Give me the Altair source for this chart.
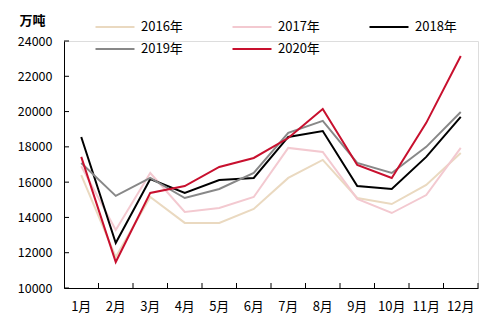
import altair as alt
import pandas as pd

months = ["1月", "2月", "3月", "4月", "5月", "6月", "7月", "8月", "9月", "10月", "11月", "12月"]
years = ["2016年", "2017年", "2018年", "2019年", "2020年"]
v2016 = [16400, 11760, 15160, 13690, 13690, 14480, 16240, 17260, 15100, 14760, 15840, 17650]
v2017 = [16900, 13290, 16520, 14310, 14540, 15160, 17940, 17710, 15050, 14250, 15270, 17940]
v2018 = [18560, 12550, 16180, 15390, 16120, 16240, 18560, 18900, 15780, 15610, 17430, 19700]
v2019 = [17090, 15220, 16240, 15100, 15610, 16520, 18790, 19470, 17090, 16520, 18000, 19980]
v2020 = [17430, 11470, 15390, 15780, 16860, 17370, 18500, 20150, 16970, 16240, 19360, 23150]
colors = ["#EAD9C0", "#F3C9D0", "#000000", "#888888", "#C8102E"]
y_ticks = [10000, 12000, 14000, 16000, 18000, 20000, 22000, 24000]

series = [v2016, v2017, v2018, v2019, v2020]
rows = []
for k, (yr, vals) in enumerate(zip(years, series)):
    for m, v in zip(months, vals):
        rows.append({"month": m, "year": yr, "value": v, "order": k})
df = pd.DataFrame(rows)

W, H = 414, 247
FONT = "Noto Sans CJK SC"

xscale = alt.Scale(domain=months, paddingInner=0, paddingOuter=0)
yscale = alt.Scale(domain=[10000, 24000], nice=False, zero=False)

x_axis = alt.Axis(title=None, labelAngle=0, ticks=False, domainColor="#000000",
                  labelFont=FONT, labelFontSize=13, labelColor="#000000",
                  labelPadding=12, labelBaseline="top")
y_axis = alt.Axis(values=y_ticks, format="d", labelOverlap=False, grid=False,
                  ticks=False, domainColor="#000000",
                  labelFont=FONT, labelFontSize=12.5, labelColor="#000000",
                  labelPadding=12, title="万吨", titleAngle=0, titleX=-32,
                  titleY=-21, titleFont=FONT, titleFontSize=13,
                  titleFontWeight="bold", titleAlign="center",
                  titleBaseline="middle", titleColor="#000000")

lines = alt.Chart(df).mark_line(strokeWidth=2).encode(
    x=alt.X("month:N", scale=xscale, sort=months, axis=x_axis),
    y=alt.Y("value:Q", scale=yscale, axis=y_axis),
    color=alt.Color("year:N", scale=alt.Scale(domain=years, range=colors),
                    legend=alt.Legend(title=None, orient="none", legendX=40, legendY=-25,
                                      direction="horizontal", columns=3,
                                      symbolType="M-2,0L2,0", symbolSize=380,
                                      symbolStrokeWidth=2, labelFont=FONT, labelFontSize=13,
                                      labelColor="#000000", labelOffset=15,
                                      columnPadding=45, rowPadding=4, labelLimit=60)),
    order="order:Q",
)

ydf = pd.DataFrame({"v": y_ticks})
yt = alt.Chart(ydf).mark_rule(color="#000000", strokeWidth=1).encode(
    y=alt.Y("v:Q", scale=yscale, axis=y_axis, title="万吨"),
    x=alt.value(0), x2=alt.value(5),
)
xdf = pd.DataFrame({"m": months})
xt = alt.Chart(xdf).mark_rule(color="#000000", strokeWidth=1).encode(
    x=alt.X("m:N", scale=xscale, sort=months, bandPosition=1, axis=x_axis),
    y=alt.value(H), y2=alt.value(H - 5),
)

chart = alt.layer(lines, yt, xt).properties(
    width=W, height=H,
    autosize=alt.AutoSizeParams(type="none"),
    padding={"left": 64, "top": 41, "right": 17, "bottom": 39},
).configure_view(stroke=None).configure(background="white")

chart.save("out.html", embed_options={"renderer": "svg", "actions": False})
